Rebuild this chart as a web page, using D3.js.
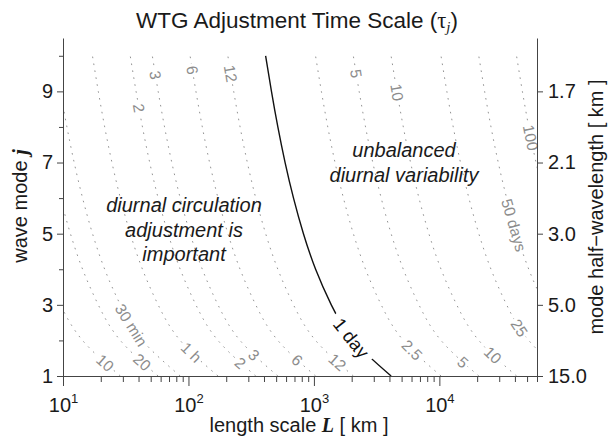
<!DOCTYPE html>
<html>
<head>
<meta charset="utf-8">
<script src="https://cdn.jsdelivr.net/npm/d3@7"></script>
<style>
  body { margin: 0; background: #fff; }
  svg { display: block; font-family: "Liberation Sans", Arial, Helvetica, sans-serif; }
</style>
</head>
<body>
<div id="chart"></div>
<script>
// vertical wave modes j and their phase speed c_j [m/s]
const modes = [1, 2, 3, 4, 5, 6, 7, 8, 9, 10]
const modeSpeed = [47.75, 23.87, 15.92, 11.94, 9.55, 7.96, 6.82, 5.97, 5.31, 4.77]

// contour levels of tau_j, in minutes (10 min ... 100 days)
const levelMinutes = [10, 20, 30, 60, 120, 180, 360, 720, 1440, 3600, 7200, 14400, 36000, 72000, 144000]
const dayLevel = 1440

// contour labels
const labelMinutes = [10, 20, 30, 60, 120, 120, 180, 180, 360, 360, 720, 720, 1440, 3600, 7200, 7200, 14400, 14400, 36000, 72000, 144000]
const labelText = ['10', '20', '30 min', '1 h', '2', '2', '3', '3', '6', '6', '12', '12', '1 day', '2.5', '5', '5', '10', '10', '25', '50 days', '100']

// axis ticks
const xMajor = [10, 100, 1000, 10000]
const xExponent = ['1', '2', '3', '4']
const yMajor = [1, 3, 5, 7, 9]
const yMinor = [2, 4, 6, 8, 10]
const halfWavelength = ['15.0', '5.0', '3.0', '2.1', '1.7']

// layout: mode j at which each label sits on its contour
const labelAt = [1.37, 1.39, 2.43, 1.67, 1.37, 8.53, 1.59, 9.46, 1.45, 9.6, 1.39, 9.5, 2.07, 1.73, 1.39, 9.5, 1.59, 8.97, 2.35, 5.24, 7.7]

let width = 608
let height = 437
let plotLeft = 63
let plotRight = 537
let plotTop = 38
let plotBottom = 376
let serif = '"Liberation Serif", "Times New Roman", serif'

let svg = d3.select('#chart')
  .append('svg')
  .attr('width', width)
  .attr('height', height)

let x = d3.scaleLog().domain([10, 60000]).range([plotLeft, plotRight])
let y = d3.scaleLinear().domain([1, 10.5]).range([plotBottom, plotTop])

svg.append('defs')
  .append('clipPath')
  .attr('id', 'plotClip')
  .append('rect')
  .attr('x', plotLeft)
  .attr('y', plotTop)
  .attr('width', plotRight - plotLeft)
  .attr('height', plotBottom - plotTop)

// length at which tau_j equals the level: L = tau * c_j
let line = d3.line()
  .x(function (d) { return x(d.L) })
  .y(function (d) { return y(d.j) })
  .curve(d3.curveNatural)

let contourG = svg.append('g').attr('clip-path', 'url(#plotClip)')
let paths = {}
levelMinutes.forEach(function (lvl) {
  let pts = modes.map(function (j, i) {
    return { j: j, L: lvl * 60 * modeSpeed[i] / 1000 }
  })
  let isDay = lvl === dayLevel
  paths[lvl] = contourG.append('path')
    .datum(pts)
    .attr('d', line)
    .attr('fill', 'none')
    .attr('stroke', isDay ? '#111' : '#939393')
    .attr('stroke-width', isDay ? 1.4 : 1)
    .attr('stroke-dasharray', isDay ? null : '1.6,5.4')
})

// find where a contour crosses a given y
function pointAtY (path, ty) {
  let node = path.node()
  let lo = 0
  let hi = node.getTotalLength()
  for (let k = 0; k < 40; k++) {
    let mid = (lo + hi) / 2
    if (node.getPointAtLength(mid).y > ty) lo = mid
    else hi = mid
  }
  let s = (lo + hi) / 2
  let p = node.getPointAtLength(s)
  let p1 = node.getPointAtLength(Math.max(0, s - 3))
  let p2 = node.getPointAtLength(s + 3)
  let a = Math.atan2(p1.y - p2.y, p1.x - p2.x) * 180 / Math.PI
  return { x: p.x, y: p.y, a: a }
}

let labelG = svg.append('g')
labelText.forEach(function (t, i) {
  let isDay = labelMinutes[i] === dayLevel
  let p = pointAtY(paths[labelMinutes[i]], y(labelAt[i]))
  let g = labelG.append('g')
    .attr('transform', 'translate(' + p.x + ',' + p.y + ') rotate(' + p.a + ')')
  let txt = g.append('text')
    .attr('text-anchor', 'middle')
    .attr('dy', '0.36em')
    .attr('font-size', isDay ? 18.5 : 15.5)
    .attr('fill', isDay ? '#111' : '#8c8c8c')
    .text(t)
  let bb = txt.node().getBBox()
  let pad = isDay ? 6 : 2
  g.insert('rect', 'text')
    .attr('x', bb.x - pad)
    .attr('y', bb.y + 2)
    .attr('width', bb.width + 2 * pad)
    .attr('height', bb.height - 4)
    .attr('fill', '#fff')
})

// axes
let axisColor = '#444'
function styleAxis (g) {
  g.selectAll('path, line').attr('stroke', axisColor)
  g.selectAll('text').attr('fill', '#1a1a1a').attr('font-family', null).attr('font-size', 20)
}

let xMinor = []
xMajor.forEach(function (d) {
  for (let m = 2; m <= 9; m++) if (d * m <= 60000) xMinor.push(d * m)
})

svg.append('g')
  .attr('transform', 'translate(0,' + plotBottom + ')')
  .call(d3.axisBottom(x).tickValues(xMinor).tickSize(6).tickFormat(''))
  .call(styleAxis)
  .select('.domain').remove()

let xAxis = svg.append('g')
  .attr('transform', 'translate(0,' + plotBottom + ')')
  .call(d3.axisBottom(x).tickValues(xMajor).tickSize(10).tickSizeOuter(0).tickFormat(''))
  .call(styleAxis)

xAxis.selectAll('.tick').each(function (d, i) {
  let t = d3.select(this).append('text')
    .attr('y', 36)
    .attr('text-anchor', 'middle')
    .attr('font-size', 20)
    .attr('fill', '#1a1a1a')
  t.append('tspan').text('10')
  t.append('tspan').attr('font-size', 13).attr('dy', -9).text(xExponent[i])
})

svg.append('g')
  .attr('transform', 'translate(' + plotLeft + ',0)')
  .call(d3.axisLeft(y).tickValues(yMinor).tickSize(4).tickFormat(''))
  .call(styleAxis)
  .select('.domain').remove()

svg.append('g')
  .attr('transform', 'translate(' + plotLeft + ',0)')
  .call(d3.axisLeft(y).tickValues(yMajor).tickSize(6).tickSizeOuter(0).tickPadding(4).tickFormat(d3.format('d')))
  .call(styleAxis)

svg.append('g')
  .attr('transform', 'translate(' + plotRight + ',0)')
  .call(d3.axisRight(y).tickValues(yMajor).tickSize(6).tickSizeOuter(0).tickPadding(5)
    .tickFormat(function (d, i) { return halfWavelength[i] }))
  .call(styleAxis)

// titles and labels
let title = svg.append('text')
  .attr('x', 297)
  .attr('y', 28)
  .attr('text-anchor', 'middle')
  .attr('font-size', 22.5)
  .attr('fill', '#1a1a1a')
title.append('tspan').text('WTG Adjustment Time Scale (')
title.append('tspan').attr('font-family', serif).text('τ')
title.append('tspan').attr('font-family', serif).attr('font-style', 'italic')
  .attr('font-size', 15).attr('dy', 4).text('j')
title.append('tspan').attr('dy', -4).text(')')

let xLabel = svg.append('text')
  .attr('x', 299)
  .attr('y', 432)
  .attr('text-anchor', 'middle')
  .attr('font-size', 20)
  .attr('fill', '#1a1a1a')
xLabel.append('tspan').text('length scale ')
xLabel.append('tspan').attr('font-family', serif).attr('font-style', 'italic').attr('font-weight', 'bold').text('L')
xLabel.append('tspan').text(' [ km ]')

let yLabel = svg.append('text')
  .attr('transform', 'translate(27,206) rotate(-90)')
  .attr('text-anchor', 'middle')
  .attr('font-size', 20)
  .attr('fill', '#1a1a1a')
yLabel.append('tspan').text('wave mode ')
yLabel.append('tspan').attr('font-family', serif).attr('font-style', 'italic').attr('font-weight', 'bold').text('j')

svg.append('text')
  .attr('transform', 'translate(603,207) rotate(-90)')
  .attr('text-anchor', 'middle')
  .attr('font-size', 20)
  .attr('fill', '#1a1a1a')
  .text('mode half\u2212wavelength [ km ]')

// region annotations
let notes = [
  { x: 184, y: 212, t: 'diurnal circulation' },
  { x: 184, y: 237, t: 'adjustment is' },
  { x: 184, y: 261, t: 'important' },
  { x: 404, y: 157, t: 'unbalanced' },
  { x: 404, y: 182, t: 'diurnal variability' }
]
svg.append('g')
  .selectAll('text')
  .data(notes)
  .enter()
  .append('text')
  .attr('x', function (d) { return d.x })
  .attr('y', function (d) { return d.y })
  .attr('text-anchor', 'middle')
  .attr('font-size', 20)
  .attr('font-style', 'italic')
  .attr('fill', '#1a1a1a')
  .text(function (d) { return d.t })
</script>
</body>
</html>
